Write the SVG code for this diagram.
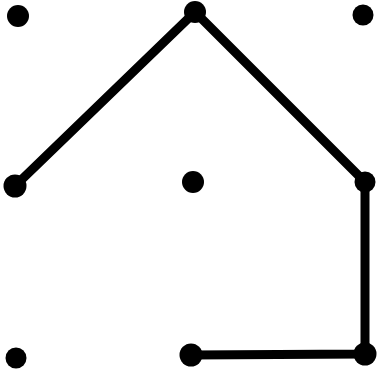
<svg xmlns="http://www.w3.org/2000/svg" width="379" height="380" viewBox="0 0 379 380">
<style>
.dot{fill:#000}
.edge{stroke:#000;stroke-width:9;fill:none;stroke-linecap:round;stroke-linejoin:round}
</style>
<rect width="379" height="380" fill="#fff"/>
<g id="connectors">
<path class="edge" d="M15 186 L195 12 L365 182 L365 354 L191 355"/>
</g>
<g id="n1"><circle class="dot" cx="18" cy="16" r="11"/></g>
<g id="n2"><circle class="dot" cx="195" cy="12" r="11"/></g>
<g id="n3"><circle class="dot" cx="363" cy="15" r="10.5"/></g>
<g id="n4"><circle class="dot" cx="15" cy="186" r="11.5"/></g>
<g id="n5"><circle class="dot" cx="193" cy="182" r="11"/></g>
<g id="n6"><circle class="dot" cx="365" cy="182" r="10.5"/></g>
<g id="n7"><circle class="dot" cx="16" cy="358" r="10.5"/></g>
<g id="n8"><circle class="dot" cx="191" cy="355" r="11.5"/></g>
<g id="n9"><circle class="dot" cx="365" cy="354" r="11.5"/></g>
</svg>
